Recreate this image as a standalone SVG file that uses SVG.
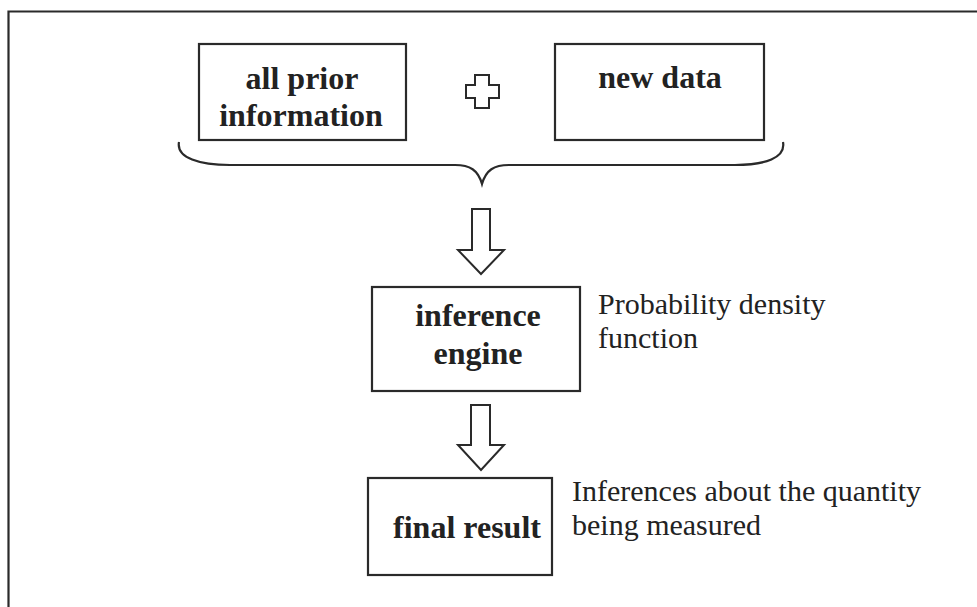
<svg xmlns="http://www.w3.org/2000/svg" width="977" height="607" viewBox="0 0 977 607">
<style>
.box{fill:#fff;stroke:#2a2a2a;stroke-width:2.2}
.b{font-family:"Liberation Serif","Times New Roman",serif;font-weight:bold;font-size:32px;fill:#222;text-anchor:middle}
.r{font-family:"Liberation Serif","Times New Roman",serif;font-size:30px;fill:#222}
.ol{fill:#fff;stroke:#2a2a2a;stroke-width:2;stroke-linejoin:miter}
</style>
<rect width="977" height="607" fill="#fff"/>
<path d="M8.5 607 V11.5 H977" fill="none" stroke="#2a2a2a" stroke-width="2.2"/>
<g id="prior">
<rect class="box" x="199" y="44" width="207" height="96"/>
<text class="b" x="302" y="89">all prior</text>
<text class="b" x="301" y="126">information</text>
</g>
<g id="plus">
<path class="ol" d="M475 75 H489 V85 H499 V98 H489 V108 H475 V98 H466 V85 H475 Z"/>
</g>
<g id="newdata">
<rect class="box" x="555" y="44" width="209" height="96"/>
<text class="b" x="660" y="88">new data</text>
</g>
<g id="engine">
<rect class="box" x="372" y="287" width="208" height="104"/>
<text class="b" x="478" y="326">inference</text>
<text class="b" x="478" y="364">engine</text>
</g>
<text class="r" x="598" y="314">Probability density</text>
<text class="r" x="598" y="348">function</text>
<g id="result">
<rect class="box" x="368" y="478" width="184" height="97"/>
<text class="b" x="467" y="538">final result</text>
</g>
<text class="r" x="572" y="501">Inferences about the quantity</text>
<text class="r" x="572" y="535">being measured</text>
<g id="connectors">
<path d="M179 142 C176 158 200 165 230 165 H455 C470 165 478 170 482 184 C486 170 494 165 509 165 H735 C765 165 786 158 783 142" fill="none" stroke="#2a2a2a" stroke-width="2.2"/>
<path class="ol" d="M472 209 H490 V250 H504 L481 274 L458 250 H472 Z"/>
<path class="ol" d="M471 405 H490 V445 H504 L481 470 L458 445 H471 Z"/>
</g>
</svg>
